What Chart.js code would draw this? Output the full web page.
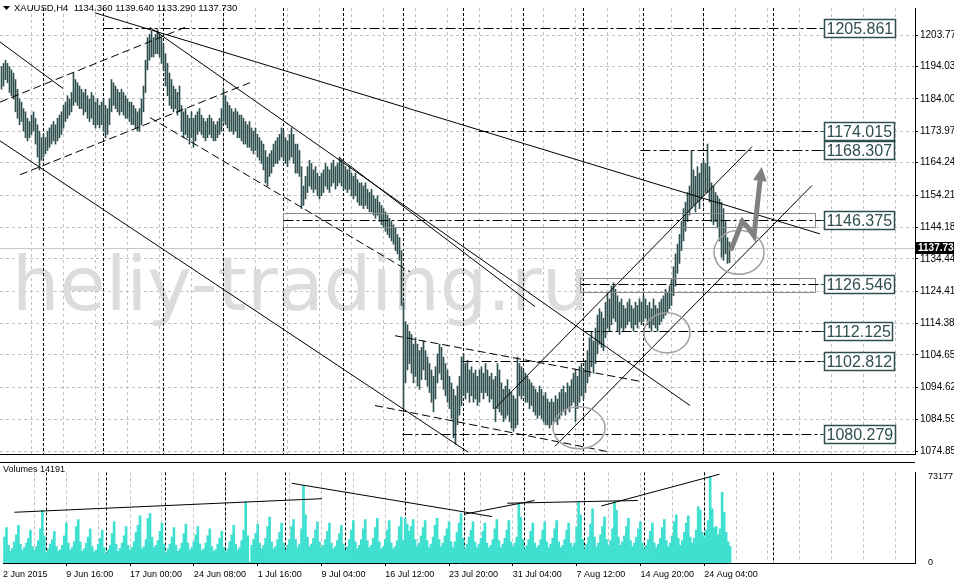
<!DOCTYPE html>
<html>
<head>
<meta charset="utf-8">
<script src="https://cdn.jsdelivr.net/npm/chart.js@4.4.0/dist/chart.umd.min.js"></script>
<style>
  html, body { margin: 0; padding: 0; background: #fff; }
  #wrap { position: relative; width: 954px; height: 584px; overflow: hidden; }
  #price { position: absolute; left: 0; top: 0; }
  #vol { position: absolute; left: 0; top: 462px; }
</style>
</head>
<body>
<div id="wrap">
  <canvas id="price" width="954" height="462"></canvas>
  <canvas id="vol" width="954" height="122"></canvas>
</div>
<script>
// H4 bars XAUUSD, 2 Jun - 26 Aug 2015
const highs = [
  1194,1195,1196,1195,1194,1193,1192,1190,1187,1184,
  1183,1181,1180,1178,1177,1179,1180,1178,1176,1174,
  1172,1173,1172,1174,1175,1176,1177,1176,1178,1179,
  1180,1182,1183,1185,1184,1186,1192,1190,1189,1188,
  1187,1186,1187,1185,1184,1186,1185,1183,1184,1182,
  1183,1184,1182,1181,1184,1190,1189,1188,1187,1186,
  1187,1186,1185,1184,1183,1183,1182,1181,1180,1181,
  1184,1188,1196,1203,1204,1205,1203,1204,1205.5,1204,
  1203,1201,1198,1195,1192,1190,1188,1187,1186,1188,
  1182,1180,1181,1179,1178,1180,1178,1179,1180,1181,
  1179,1178,1177,1178,1179,1178,1177,1176,1177,1178,
  1181,1187,1185,1183,1182,1181,1180,1181,1180,1179,
  1179,1178,1177,1176,1177,1175,1174,1175,1173,1172,
  1171,1170,1168,1166,1167,1168,1170,1171,1172,1173,
  1175,1174,1172,1171,1173,1175,1173,1170,1170,1168,
  1163,1157,1160,1163,1165,1164,1162,1163,1161,1160,
  1161,1162,1164,1163,1162,1164,1165,1163,1164,1166,
  1165,1164,1163,1162,1163,1161,1160,1161,1159,1158,
  1158,1157,1158,1156,1155,1156,1154,1153,1154,1152,
  1151,1150,1149,1148,1147,1146,1145,1144,1142,1141,
  1137,1121,1115,1114,1112,1111,1108,1110,1108,1106,
  1107,1109,1106,1104,1102,1100,1098,1101,1105,1108,
  1107,1104,1102,1100,1098,1096,1094,1092,1095,1098,
  1104,1105,1102,1103,1100,1101,1099,1100,1098,1100,
  1101,1099,1102,1100,1098,1099,1097,1098,1102,1100,
  1096,1094,1095,1097,1094,1093,1092,1091,1104,1102,
  1101,1100,1099,1098,1097,1096,1095,1094,1093,1095,
  1094,1092,1093,1091,1090,1091,1090,1092,1091,1093,
  1094,1095,1093,1096,1095,1097,1099,1100,1098,1101,
  1102,1100,1103,1106,1110,1112,1109,1113,1117,1119,
  1118,1116,1121,1124,1122,1126,1127,1125,1123,1121,
  1122,1120,1119,1121,1122,1120,1119,1121,1120,1122,
  1121,1123,1122,1120,1121,1119,1122,1120,1119,1121,
  1122,1123,1125,1124,1126,1128,1132,1136,1139,1142,
  1146,1150,1152,1155,1157,1168,1162,1160,1163,1161,
  1164,1165,1164,1170,1163,1158,1157,1155,1154,1153,
  1152,1150,1146,1141,1139.64
];
const lows = [
  1187,1188,1190,1189,1186,1185,1184,1180,1178,1176,
  1177,1174,1172,1171,1172,1173,1174,1170,1166,1162,
  1165,1166,1167,1168,1169,1170,1171,1170,1171,1172,
  1173,1175,1177,1178,1179,1180,1182,1183,1182,1181,
  1181,1179,1180,1178,1177,1178,1176,1175,1176,1175,
  1176,1174,1172,1173,1176,1180,1182,1181,1180,1179,
  1180,1179,1178,1178,1177,1176,1176,1175,1174,1174,
  1176,1180,1186,1193,1196,1197,1197,1198,1198,1197,
  1195,1193,1188,1185,1182,1181,1180,1181,1179,1180,
  1174,1172,1173,1172,1170,1172,1169,1171,1173,1174,
  1173,1172,1171,1172,1173,1172,1171,1171,1172,1173,
  1174,1177,1176,1175,1174,1174,1173,1174,1172,1172,
  1171,1170,1170,1169,1169,1168,1167,1168,1166,1165,
  1164,1162,1158,1157,1160,1161,1163,1164,1164,1165,
  1166,1165,1164,1163,1165,1166,1164,1161,1161,1160,
  1150,1151,1153,1155,1157,1156,1155,1156,1154,1153,
  1154,1155,1157,1156,1155,1157,1158,1156,1157,1158,
  1157,1156,1156,1155,1156,1154,1153,1154,1152,1151,
  1151,1150,1151,1150,1149,1149,1148,1147,1148,1146,
  1145,1144,1143,1142,1141,1140,1139,1137,1136,1134,
  1120,1088,1096,1100,1102,1099,1096,1098,1095,1094,
  1097,1100,1097,1095,1093,1090,1087,1091,1096,1099,
  1097,1094,1092,1090,1088,1085,1079,1077,1083,1086,
  1089,1092,1091,1093,1090,1092,1090,1091,1089,1090,
  1093,1091,1093,1092,1090,1091,1088,1084,1088,1087,
  1086,1084,1085,1086,1084,1082,1081,1082,1083,1092,
  1091,1092,1090,1090,1088,1089,1087,1086,1085,1086,
  1085,1084,1083,1083,1082,1083,1084,1084,1083,1085,
  1086,1087,1086,1088,1087,1089,1090,1084,1088,1090,
  1092,1091,1093,1096,1098,1101,1099,1102,1105,1108,
  1107,1106,1110,1113,1112,1114,1116,1115,1112,1111,
  1113,1112,1113,1114,1115,1113,1112,1114,1113,1115,
  1114,1115,1116,1114,1113,1112,1114,1113,1112,1114,
  1115,1116,1117,1118,1119,1120,1123,1126,1130,1133,
  1137,1140,1143,1146,1148,1150,1151,1149,1152,1150,
  1153,1154,1155,1155,1152,1146,1145,1146,1144,1140,
  1135,1134,1136,1133,1133.29
];
const volumes = [
  22000,30000,15000,10000,12500,18000,
  24000,32000,16000,10500,13000,17000,
  21000,28000,14000,11000,14000,19000,
  29000,45000,23000,9000,12000,16000,
  20000,27000,14000,10000,11500,15000,
  23000,34000,17000,11000,13000,18000,
  31000,37000,18000,10000,12000,17000,
  22000,29000,14000,9500,11000,16000,
  21000,28000,13000,8000,11000,15000,
  25000,35000,16000,10000,12500,17000,
  23000,31000,15000,11000,13000,18000,
  26000,32000,40000,12000,14000,20000,
  38000,42000,22000,13000,15000,19000,
  27000,34000,16000,8500,12000,16000,
  22000,30000,15000,10000,12000,17000,
  25000,33000,17000,11000,13000,18000,
  24000,31000,16000,10500,12000,17000,
  23000,29000,14000,10000,11500,16000,
  21000,27000,13000,9000,12000,18000,
  24000,32000,16000,11000,13000,19000,
  28000,52000,23000,600,15000,20000,
  25000,33000,17000,12000,15000,21000,
  31000,39000,18000,12000,14000,20000,
  26000,34000,17000,11000,15000,20000,
  31000,37000,20000,13000,16000,29000,
  66000,41000,22000,14000,16000,21000,
  28000,35000,18000,13000,15000,20000,
  27000,34000,17000,12000,14000,19000,
  25000,32000,16000,11000,14000,20000,
  28000,36000,18000,12000,15000,20000,
  29000,37000,19000,13000,15000,21000,
  30000,38000,18000,12000,14000,20000,
  28000,36000,17000,12000,14000,19000,
  31000,39000,19000,38000,33000,27000,
  31000,37000,20000,14000,17000,23000,
  30000,36000,19000,13000,16000,22000,
  32000,38000,20000,14000,17000,23000,
  29000,35000,18000,13000,18000,26000,
  34000,42000,21000,12000,16000,22000,
  28000,35000,18000,13000,16000,21000,
  27000,34000,17000,13000,15000,20000,
  29000,37000,19000,13000,16000,21000,
  28000,36000,18000,14000,17000,22000,
  50000,39000,20000,12000,15000,20000,
  27000,34000,17000,13000,15000,20000,
  28000,35000,18000,13000,16000,21000,
  29000,36000,18000,13000,15000,20000,
  28000,34000,17000,14000,17000,31000,
  52000,41000,20000,12000,16000,22000,
  33000,46000,22000,14000,17000,24000,
  31000,39000,20000,15000,19000,29000,
  52000,45000,22000,15000,18000,23000,
  31000,38000,19000,14000,17000,22000,
  29000,35000,17000,12000,15000,20000,
  27000,34000,17000,13000,16000,21000,
  30000,37000,19000,14000,17000,23000,
  35000,41000,21000,15000,19000,26000,
  34000,40000,22000,17000,21000,28000,
  48000,45000,26000,22000,28000,36000,
  73177,46000,30000,31000,24000,29000,
  60000,43000,26000,18000,14191
];

const priceTicks = [1203.77, 1194.03, 1184.00, 1173.97, 1164.24, 1154.21, 1144.18,
                    1134.44, 1124.41, 1114.38, 1104.65, 1094.62, 1084.59, 1074.85];
const volumeTicks = [0, 73177];
const timeLabels = ["2 Jun 2015", "9 Jun 16:00", "17 Jun 00:00", "24 Jun 08:00", "1 Jul 16:00",
                    "9 Jul 04:00", "16 Jul 12:00", "23 Jul 20:00", "31 Jul 04:00",
                    "7 Aug 12:00", "14 Aug 20:00", "24 Aug 04:00"];
const labelBars = [-0.75, 31, 63, 95, 127, 159, 191, 223, 255, 287, 319, 351];
const gridBars = [15, 31, 47, 63, 79, 95, 111, 127, 143, 159, 175, 191, 207, 223, 239,
                  255, 271, 287, 303, 319, 335, 351, 367, 383, 399, 415, 431, 447];
const weekBars = [21, 51, 81, 111, 141, 171, 201, 231, 261, 291, 321, 351, 386];

const lastPrice = 1137.73;
const header = "XAUUSD,H4  1134.360 1139.640 1133.290 1137.730";

// drawn objects: levels, trend lines, circles, arrow (bar index, price)
const levels = [
  { price: 1205.861, from: 51 },
  { price: 1174.015, from: 238.5 },
  { price: 1168.307, from: 319.5 },
  { price: 1146.375, from: 141 },
  { price: 1126.546, from: 289.5 },
  { price: 1112.125, from: 291 },
  { price: 1102.812, from: 230.5 },
  { price: 1080.279, from: 200.5 }
];
const boxes = [
  { from: 141, to: 407, top: 1148.8, bottom: 1144.3 },
  { from: 289.5, to: 407, top: 1128.6, bottom: 1124.1 }
];
const trendLines = [
  { a: [46.75, 1210.68], b: [409.25, 1142.17] },
  { a: [74.25, 1206.17], b: [344.25, 1088.98] },
  { a: [169.25, 1165.6], b: [266.75, 1119.63] },
  { a: [-0.75, 1171.01], b: [233.25, 1074.56] },
  { a: [-0.75, 1201.66], b: [30.75, 1187.24] },
  { a: [246.75, 1088.08], b: [375.25, 1169.21] },
  { a: [276.75, 1076.36], b: [405.25, 1157.19] },
  { a: [-0.75, 1183.03], b: [91.75, 1206.17], dash: true },
  { a: [9.25, 1160.5], b: [124.25, 1189.04], dash: true },
  { a: [74.25, 1178.23], b: [204.25, 1130.45], dash: true },
  { a: [196.75, 1110.62], b: [319.25, 1096.49], dash: true },
  { a: [186.75, 1088.98], b: [304.25, 1074.56], dash: true }
];
const circles = [
  { i: 288.75, p: 1082.07, rx: 26, ry: 21 },
  { i: 332.75, p: 1111.52, rx: 23, ry: 20 },
  { i: 368.75, p: 1136.46, rx: 25, ry: 22 }
];
const arrowPath = [[364.6, 1137.06], [370.4, 1146.07], [373.4, 1144.06], [376.25, 1141.57], [379.25, 1158.69]];
const arrowTip = [380.1, 1162.9];
const volumeLines = [
  { a: [5, 43120], b: [159.3, 54670] },
  { a: [144.1, 67760], b: [244.5, 39500] },
  { a: [230.9, 41580], b: [265.9, 53130] },
  { a: [252.2, 50820], b: [317.7, 53130] },
  { a: [299.4, 48510], b: [358.7, 75460] }
];

const FONT = '"Liberation Sans", Arial, sans-serif';
const barColor = "#2F4F4F";
const gridColor = "#c0c0c0";
const xMin = -0.75, xMax = 456.75;

function seg(ctx, x1, y1, x2, y2) {
  ctx.beginPath();
  ctx.moveTo(x1, y1);
  ctx.lineTo(x2, y2);
  ctx.stroke();
}

const priceOverlay = {
  id: "priceOverlay",
  beforeDatasetsDraw(chart) {
    const { ctx, chartArea: a, scales: { x, y } } = chart;
    ctx.save();
    ctx.font = '75px "DejaVu Sans", sans-serif';
    ctx.fillStyle = "#dcdcdc";
    ctx.textBaseline = "alphabetic";
    ctx.fillText("heliy-trading.ru", 12, 310);
    // weekly separators
    ctx.strokeStyle = "#000";
    ctx.lineWidth = 1;
    ctx.setLineDash([3, 2]);
    weekBars.forEach(i => {
      const xp = Math.floor(x.getPixelForValue(i)) + 0.5;
      seg(ctx, xp, a.top, xp, a.bottom);
    });
    // bid line
    ctx.setLineDash([]);
    ctx.strokeStyle = "#c8c8c8";
    const by = Math.floor(y.getPixelForValue(lastPrice)) + 0.5;
    seg(ctx, a.left, by, a.right, by);
    ctx.restore();
  },
  afterDatasetsDraw(chart) {
    const { ctx, chartArea: a, scales: { x, y } } = chart;
    ctx.save();
    ctx.beginPath();
    ctx.rect(a.left, a.top, a.right - a.left, a.bottom - a.top);
    ctx.clip();

    // rectangles
    ctx.strokeStyle = "#8a8a8a";
    ctx.lineWidth = 1;
    boxes.forEach(b => {
      const x1 = x.getPixelForValue(b.from), x2 = x.getPixelForValue(b.to);
      const y1 = Math.round(y.getPixelForValue(b.top)) + 0.5, y2 = Math.round(y.getPixelForValue(b.bottom)) + 0.5;
      ctx.strokeRect(x1, y1, x2 - x1, y2 - y1);
    });

    // trend lines
    ctx.strokeStyle = "#000";
    trendLines.forEach(l => {
      ctx.setLineDash(l.dash ? [8, 4] : []);
      seg(ctx, x.getPixelForValue(l.a[0]), y.getPixelForValue(l.a[1]),
               x.getPixelForValue(l.b[0]), y.getPixelForValue(l.b[1]));
    });

    // levels with labels
    const bx = Math.round(x.getPixelForValue(411)) + 0.5;
    levels.forEach(lv => {
      const yp = Math.round(y.getPixelForValue(lv.price)) + 0.5;
      ctx.strokeStyle = "#000";
      ctx.setLineDash([10, 3, 3, 3]);
      seg(ctx, x.getPixelForValue(lv.from), yp, bx - 3, yp);
      ctx.setLineDash([]);
      ctx.strokeStyle = barColor;
      seg(ctx, bx - 4, yp, bx, yp);
      ctx.font = "16px " + FONT;
      const t = lv.price.toFixed(3);
      const w = Math.round(ctx.measureText(t).width) + 4;
      ctx.fillStyle = "#fff";
      ctx.fillRect(bx, yp - 9, w, 18);
      ctx.lineWidth = 1.5;
      ctx.strokeRect(bx, yp - 9, w, 18);
      ctx.lineWidth = 1;
      ctx.fillStyle = barColor;
      ctx.textBaseline = "middle";
      ctx.fillText(t, bx + 2, yp + 1);
    });

    // circles
    ctx.strokeStyle = "#a0a0a0";
    ctx.lineWidth = 1.5;
    circles.forEach(c => {
      ctx.beginPath();
      ctx.ellipse(x.getPixelForValue(c.i), y.getPixelForValue(c.p), c.rx, c.ry, 0, 0, Math.PI * 2);
      ctx.stroke();
    });

    // arrow
    ctx.strokeStyle = "#808080";
    ctx.fillStyle = "#808080";
    ctx.lineWidth = 5;
    ctx.lineJoin = "miter";
    ctx.beginPath();
    arrowPath.forEach(([i, p], k) => {
      const X = x.getPixelForValue(i), Y = y.getPixelForValue(p);
      if (k) ctx.lineTo(X, Y); else ctx.moveTo(X, Y);
    });
    ctx.stroke();
    const last = arrowPath[arrowPath.length - 1];
    const lx = x.getPixelForValue(last[0]), ly = y.getPixelForValue(last[1]);
    const tx = x.getPixelForValue(arrowTip[0]), ty = y.getPixelForValue(arrowTip[1]);
    const d = Math.hypot(tx - lx, ty - ly), ux = (tx - lx) / d, uy = (ty - ly) / d;
    const baseX = tx - ux * 14, baseY = ty - uy * 14;
    ctx.beginPath();
    ctx.moveTo(tx, ty);
    ctx.lineTo(baseX - uy * 7, baseY + ux * 7);
    ctx.lineTo(baseX + uy * 7, baseY - ux * 7);
    ctx.closePath();
    ctx.fill();
    ctx.restore();

    // header
    ctx.save();
    ctx.fillStyle = "#000";
    ctx.beginPath();
    ctx.moveTo(3, 6); ctx.lineTo(10, 6); ctx.lineTo(6.5, 10);
    ctx.closePath();
    ctx.fill();
    ctx.font = "9.5px " + FONT;
    ctx.textBaseline = "middle";
    ctx.fillText(header, 14, 8);

    // current price box
    const cy = Math.round(y.getPixelForValue(lastPrice));
    ctx.fillStyle = "#000";
    ctx.fillRect(a.right + 1, cy - 6, 40, 12);
    ctx.fillStyle = "#fff";
    ctx.font = "bold 10px " + FONT;
    ctx.fillText(lastPrice.toFixed(2), a.right + 3, cy);

    // panel bottom border
    ctx.strokeStyle = "#000";
    ctx.lineWidth = 1;
    seg(ctx, 0, a.bottom + 0.5, a.right, a.bottom + 0.5);
    ctx.restore();
  }
};

const volumeOverlay = {
  id: "volumeOverlay",
  beforeDatasetsDraw(chart) {
    const { ctx, chartArea: a, scales: { x } } = chart;
    ctx.save();
    ctx.strokeStyle = "#000";
    ctx.lineWidth = 1;
    ctx.setLineDash([3, 2]);
    weekBars.forEach(i => {
      const xp = Math.floor(x.getPixelForValue(i)) + 0.5;
      seg(ctx, xp, a.top, xp, a.bottom);
    });
    ctx.restore();
  },
  afterDatasetsDraw(chart) {
    const { ctx, chartArea: a, scales: { x, y } } = chart;
    ctx.save();
    ctx.strokeStyle = "#000";
    ctx.lineWidth = 1;
    seg(ctx, 0, 0.5, a.right, 0.5);
    volumeLines.forEach(l => {
      seg(ctx, x.getPixelForValue(l.a[0]), y.getPixelForValue(l.a[1]),
               x.getPixelForValue(l.b[0]), y.getPixelForValue(l.b[1]));
    });
    ctx.fillStyle = "#000";
    ctx.font = "9px " + FONT;
    ctx.textBaseline = "middle";
    ctx.fillText("Volumes " + volumes[volumes.length - 1], 3, 8);
    ctx.restore();
  }
};

Chart.defaults.font.family = FONT;

new Chart(document.getElementById("price"), {
  type: "bar",
  data: {
    datasets: [{
      data: highs.map((h, i) => ({ x: i, y: [lows[i], h] })),
      backgroundColor: barColor,
      borderWidth: 0,
      barThickness: 1
    }]
  },
  options: {
    responsive: false,
    animation: false,
    layout: { padding: { top: 0, bottom: 2, left: 0, right: 0 } },
    plugins: { legend: { display: false }, tooltip: { enabled: false } },
    scales: {
      x: {
        type: "linear",
        min: xMin,
        max: xMax,
        offset: false,
        afterBuildTicks: s => { s.ticks = gridBars.map(v => ({ value: v })); },
        afterFit: s => { s.height = 0; },
        ticks: { display: false },
        grid: { color: gridColor, drawTicks: false, offset: false },
        border: { display: false, dash: [3, 3] }
      },
      y: {
        position: "right",
        min: 1073.96,
        max: 1212.18,
        afterBuildTicks: s => { s.ticks = priceTicks.map(v => ({ value: v })); },
        afterFit: s => { s.width = 39; },
        ticks: {
          autoSkip: false,
          padding: 2,
          color: "#000",
          font: { size: 10 },
          callback: v => v.toFixed(2)
        },
        grid: { color: gridColor, tickLength: 3, tickColor: "#000" },
        border: { display: true, color: "#000", dash: [3, 3] }
      }
    }
  },
  plugins: [priceOverlay]
});

new Chart(document.getElementById("vol"), {
  type: "bar",
  data: {
    datasets: [{
      data: volumes.map((v, i) => ({ x: i, y: v })),
      backgroundColor: "#40E0D0",
      borderWidth: 0,
      barThickness: 2
    }]
  },
  options: {
    responsive: false,
    animation: false,
    layout: { padding: { top: 1, bottom: 0, left: 0, right: 0 } },
    plugins: { legend: { display: false }, tooltip: { enabled: false } },
    scales: {
      x: {
        type: "linear",
        min: xMin,
        max: xMax,
        offset: false,
        afterBuildTicks: s => {
          s.ticks = [xMin].concat(gridBars).map(v => ({ value: v }));
        },
        afterFit: s => { s.height = 21; },
        ticks: {
          autoSkip: false,
          maxRotation: 0,
          align: "start",
          padding: 3,
          color: "#000",
          font: { size: 9 },
          callback: v => {
            const k = labelBars.indexOf(v);
            return k < 0 ? "" : timeLabels[k];
          }
        },
        grid: {
          offset: false,
          color: c => (c.tick && c.tick.value === xMin ? "rgba(0,0,0,0)" : gridColor),
          tickLength: 3,
          tickColor: c => (c.tick && labelBars.indexOf(c.tick.value) > 0 ? "#000" : "rgba(0,0,0,0)")
        },
        border: { display: true, color: "#000", dash: [3, 3] }
      },
      y: {
        position: "right",
        min: 0,
        max: 77000,
        afterBuildTicks: s => { s.ticks = volumeTicks.map(v => ({ value: v })); },
        afterFit: s => { s.width = 39; },
        ticks: {
          autoSkip: false,
          padding: 5,
          color: "#000",
          font: { size: 9 },
          callback: v => String(v)
        },
        grid: { display: false },
        border: { display: true, color: "#000" }
      }
    }
  },
  plugins: [volumeOverlay]
});
</script>
</body>
</html>
